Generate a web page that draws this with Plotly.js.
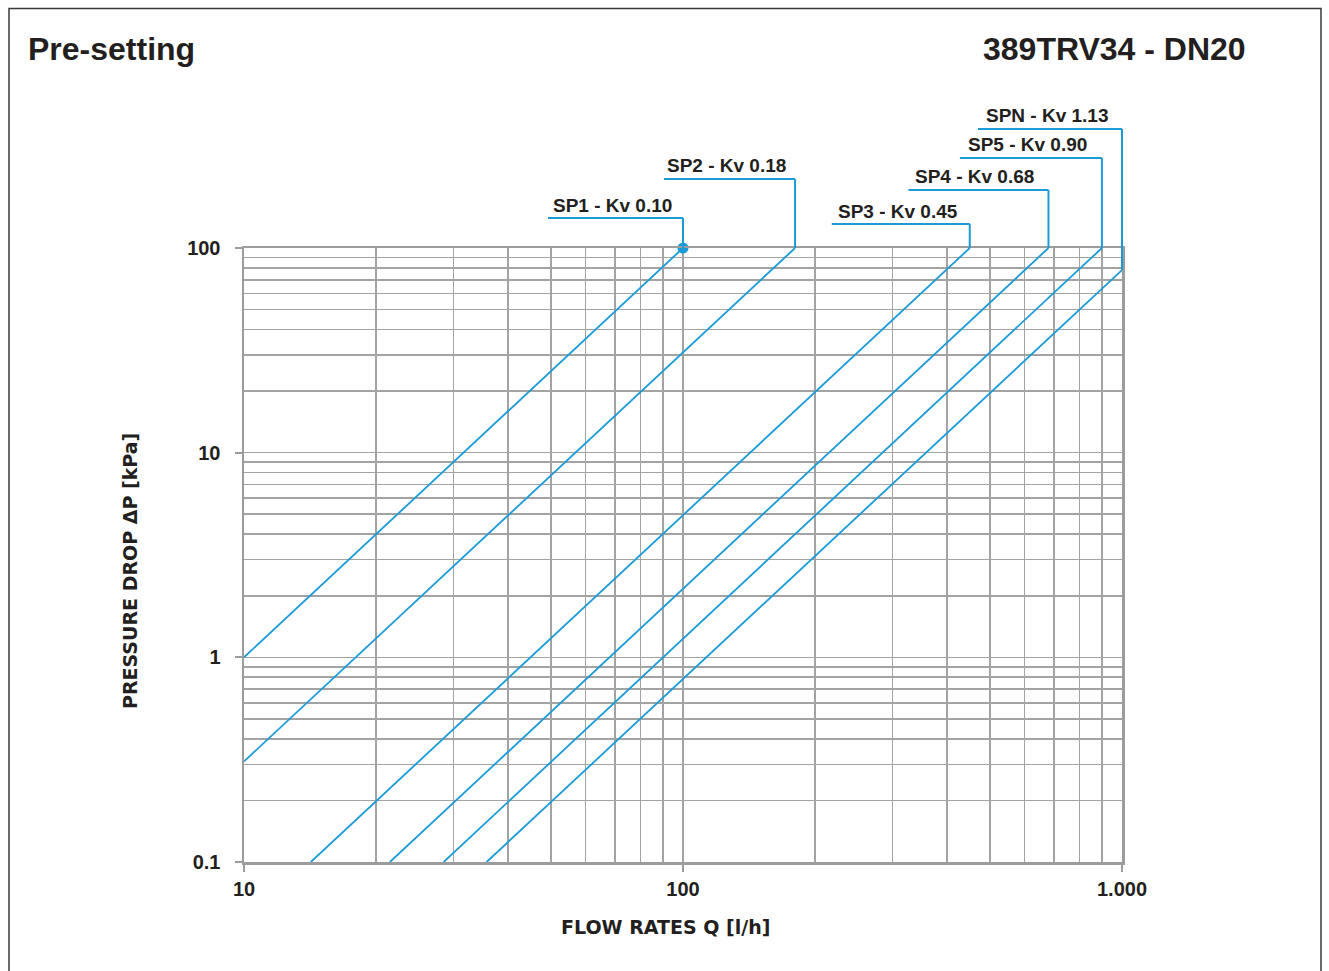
<!DOCTYPE html>
<html><head><meta charset="utf-8">
<script src="https://cdn.plot.ly/plotly-3.0.1.min.js"></script>
<style>html,body{margin:0;padding:0;background:#fff;}#chart{width:1329px;height:971px;}</style>
</head><body><div id="chart"></div>
<script>
// ---- data ----
const seriesNames = ['SP1 - Kv 0.10','SP2 - Kv 0.18','SP3 - Kv 0.45','SP4 - Kv 0.68','SP5 - Kv 0.90','SPN - Kv 1.13'];
const flowStart = [10, 10, 14.2, 21.5, 28.5, 35.7];     // l/h
const flowEnd   = [100, 180, 450, 680, 900, 1000];      // l/h
const dpStart   = [1, 0.31, 0.1, 0.1, 0.1, 0.1];        // kPa
const dpEnd     = [100, 100, 100, 100, 100, 78];        // kPa
const xTickVals = [10, 100, 1000];
const xTickText = ['10', '100', '1.000'];
const yTickVals = [0.1, 1, 10, 100];
const yTickText = ['0.1', '1', '10', '100'];
const xMinorVals = [20,30,40,50,60,70,80,90,200,300,400,500,600,700,800,900];
const yMinorVals = [0.2,0.3,0.4,0.5,0.6,0.7,0.8,0.9,2,3,4,5,6,7,8,9,20,30,40,50,60,70,80,90];

// ---- layout / style (not data) ----
const W = 1329, H = 971;
const M = {l: 244, r: 207, t: 248, b: 109};
const PW = W - M.l - M.r, PH = H - M.t - M.b;
const xRange = [1, 3], yRange = [-1, 2];
const labelLevelPx = [30, 69, 24, 58, 90, 119];   // leader height above plot top
const leaderLenPx  = [135, 131, 138, 140, 142, 144];
const textInsetPx  = [3, 1, 4, 5, 6, 6];
const BLUE = '#1a9bd7';
const GRID = '#a3a3a3';
const INK = '#231f20';
const FONT = 'Liberation Sans, Arial, sans-serif';
const TFONT = 'DejaVu Sans, sans-serif';

const toPX = q => (Math.log10(q) - xRange[0]) / (xRange[1] - xRange[0]);
const toPY = p => (Math.log10(p) - yRange[0]) / (yRange[1] - yRange[0]);

const traces = seriesNames.map((n, i) => ({
  type: 'scatter',
  x: [flowStart[i], flowEnd[i]],
  y: [dpStart[i], dpEnd[i]],
  mode: 'lines',
  line: {color: BLUE, width: 1.8},
  name: n, showlegend: false, hoverinfo: 'skip'
}));
// end-point dot of the first setting
traces.push({type: 'scatter', x: [flowEnd[0]], y: [dpEnd[0]], mode: 'markers', cliponaxis: false,
  marker: {size: 11, color: BLUE}, showlegend: false, hoverinfo: 'skip'});

const shapes = [];
const annotations = [];
seriesNames.forEach((n, i) => {
  const px = toPX(flowEnd[i]);
  const ly = 1 + labelLevelPx[i] / PH;
  shapes.push({type: 'line', xref: 'paper', yref: 'paper', xsizemode: 'pixel', xanchor: px,
    x0: -leaderLenPx[i], x1: 0, y0: ly, y1: ly, line: {color: BLUE, width: 2}});
  shapes.push({type: 'line', xref: 'paper', yref: 'paper', x0: px, x1: px,
    y0: toPY(dpEnd[i]), y1: ly, line: {color: BLUE, width: 2}});
  annotations.push({xref: 'paper', yref: 'paper', x: px, y: ly, xanchor: 'left', yanchor: 'middle',
    xshift: -leaderLenPx[i] + textInsetPx[i], yshift: 13, showarrow: false,
    text: '<b>' + n + '</b>', font: {family: FONT, size: 19, color: INK}});
});

// frame
shapes.push({type: 'rect', xref: 'paper', yref: 'paper', layer: 'below',
  x0: (9 - M.l) / PW, x1: (1321 - M.l) / PW, y0: (H - M.b - 990) / PH, y1: (H - M.b - 8.5) / PH,
  line: {color: '#3a3a3a', width: 1.5}});

annotations.push(
  {xref: 'paper', yref: 'paper', x: (26 - M.l) / PW, y: (H - M.b - 49) / PH, xanchor: 'left', yanchor: 'middle',
   showarrow: false, text: '<b>Pre-setting</b>', font: {family: FONT, size: 32, color: INK}},
  {xref: 'paper', yref: 'paper', x: (1248 - M.l) / PW, y: (H - M.b - 49) / PH, xanchor: 'right', yanchor: 'middle',
   showarrow: false, text: '<b>389TRV34 - DN20</b>', font: {family: FONT, size: 32, color: INK}},
  {xref: 'paper', yref: 'paper', x: (665 - M.l) / PW, y: (H - M.b - 927) / PH, xanchor: 'center', yanchor: 'middle',
   showarrow: false, text: '<b>FLOW RATES Q [l/h]</b>', font: {family: TFONT, size: 19, color: INK}},
  {xref: 'paper', yref: 'paper', x: (130 - M.l) / PW, y: (H - M.b - 571) / PH, xanchor: 'center', yanchor: 'middle',
   showarrow: false, textangle: -90, text: '<b>PRESSURE DROP ΔP [kPa]</b>', font: {family: TFONT, size: 19, color: INK}}
);

const axisCommon = {
  type: 'log', showgrid: true, gridcolor: GRID, gridwidth: 1.6,
  showline: true, linecolor: '#9c9c9c', linewidth: 2.5, mirror: true,
  ticks: 'outside', ticklen: 7, tickwidth: 2, tickcolor: '#9c9c9c',
  tickmode: 'array', zeroline: false, fixedrange: true,
  tickfont: {family: FONT, size: 20, color: INK}
};

const layout = {
  width: W, height: H, margin: M,
  paper_bgcolor: '#fff', plot_bgcolor: '#fff', showlegend: false,
  xaxis: Object.assign({}, axisCommon, {range: xRange, tickvals: xTickVals,
    ticktext: xTickText.map(t => '<b>' + t + '</b>'), ticklabelstandoff: 0,
    minor: {tickmode: 'array', tickvals: xMinorVals, showgrid: true, gridcolor: GRID, gridwidth: 1.6, ticks: ''}}),
  yaxis: Object.assign({}, axisCommon, {range: yRange, tickvals: yTickVals,
    ticktext: yTickText.map(t => '<b>' + t + '</b>'), ticklabelstandoff: 10,
    minor: {tickmode: 'array', tickvals: yMinorVals, showgrid: true, gridcolor: GRID, gridwidth: 1.6, ticks: ''}}),
  shapes: shapes, annotations: annotations
};

Plotly.newPlot('chart', traces, layout, {displayModeBar: false, staticPlot: true});
</script></body></html>
